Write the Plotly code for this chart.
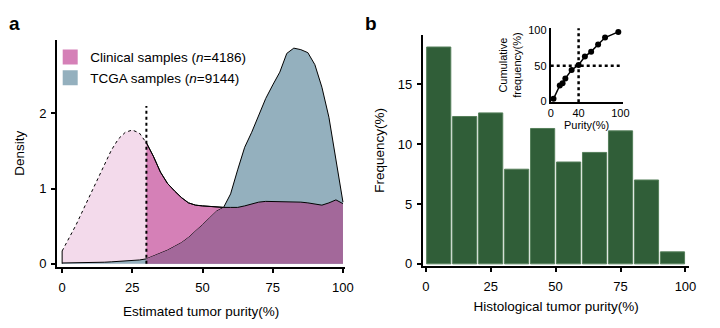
import plotly.graph_objects as go
import numpy as np

# ---------------- data ----------------
PURITY = [0, 2.5, 5, 7.5, 10, 12.5, 15, 17.5, 20, 22.5, 25, 27.5, 30, 32.5, 35, 37.5,
          40, 42.5, 45, 47.5, 50, 52.5, 55, 57.5, 60, 62.5, 65, 67.5, 70, 72.5, 75,
          77.5, 80, 82.5, 85, 87.5, 90, 92.5, 95, 97.5, 100]
CLINICAL = [0.17, 0.34, 0.52, 0.72, 0.92, 1.12, 1.32, 1.51, 1.66, 1.75, 1.78, 1.74, 1.61,
            1.43, 1.22, 1.07, 0.97, 0.88, 0.81, 0.78, 0.77, 0.76, 0.75, 0.75, 0.75, 0.75,
            0.77, 0.80, 0.82, 0.83, 0.83, 0.83, 0.83, 0.83, 0.82, 0.81, 0.79, 0.78, 0.81,
            0.85, 0.80]
TCGA = [0.01, 0.01, 0.01, 0.015, 0.02, 0.02, 0.02, 0.025, 0.03, 0.035, 0.04, 0.05, 0.065,
        0.10, 0.14, 0.18, 0.23, 0.28, 0.35, 0.43, 0.52, 0.61, 0.70, 0.75, 0.93, 1.25,
        1.55, 1.75, 1.98, 2.20, 2.38, 2.55, 2.80, 2.87, 2.85, 2.81, 2.65, 2.35, 1.95,
        1.40, 0.82]
CUTOFF = 30
CUTOFF_LINE_TOP = 2.1

BIN_CENTERS = [5, 15, 25, 35, 45, 55, 65, 75, 85, 95]
FREQ = [18.1, 12.3, 12.6, 7.9, 11.3, 8.5, 9.3, 11.1, 7.0, 1.0]

CUM_X = [4, 13, 17, 21, 30, 40, 49, 58, 68, 78, 97]
CUM_Y = [3, 22, 25, 32, 44, 51, 63, 70, 80, 90, 98]
MEDIAN_PURITY = 40
HALF = 50

LIGHT_PINK = "#f3daeb"
PINK = "#d580b7"
BLUE = "#94b0be"
PURPLE = "#a3689a"
GREEN = "#305e38"
FONT = "Liberation Sans, Arial, sans-serif"

W, H = 720, 328
def px_x(a, b):
    return [a / W, b / W]
def px_y(top, bottom):
    return [1 - bottom / H, 1 - top / H]

x = np.array(PURITY)
clin = np.array(CLINICAL)
tcga = np.array(TCGA)
left = x <= CUTOFF
right = x >= CUTOFF

fig = go.Figure()

fig.add_trace(go.Scatter(x=x[left], y=clin[left], mode="lines", fill="tozeroy",
                         fillcolor=LIGHT_PINK, line=dict(color="black", width=1, dash="dot"),
                         showlegend=False, hoverinfo="skip"))
fig.add_trace(go.Scatter(x=x[right], y=clin[right], mode="lines", fill="tozeroy",
                         fillcolor=PINK, line=dict(color="black", width=1),
                         showlegend=False, hoverinfo="skip"))
fig.add_trace(go.Scatter(x=x, y=tcga, mode="lines", fill="tozeroy",
                         fillcolor=BLUE, line=dict(color="black", width=1),
                         showlegend=False, hoverinfo="skip"))
ov = np.minimum(clin[right], tcga[right])
fig.add_trace(go.Scatter(x=x[right], y=ov, mode="lines", fill="tozeroy",
                         fillcolor=PURPLE, line=dict(color="rgba(0,0,0,0)", width=0),
                         showlegend=False, hoverinfo="skip"))
fig.add_trace(go.Scatter(x=x[right], y=clin[right], mode="lines",
                         line=dict(color="black", width=1),
                         showlegend=False, hoverinfo="skip"))
fig.add_trace(go.Scatter(x=[x[0], x[0]], y=[0, clin[0]], mode="lines",
                         line=dict(color="black", width=1), showlegend=False, hoverinfo="skip"))
fig.add_trace(go.Scatter(x=[CUTOFF, CUTOFF], y=[0, CUTOFF_LINE_TOP], mode="lines",
                         line=dict(color="black", width=2, dash="dot"),
                         showlegend=False, hoverinfo="skip"))

fig.add_trace(go.Scatter(x=[None], y=[None], mode="markers", name="Clinical samples (<i>n</i>=4186)",
                         marker=dict(symbol="square", size=15, color=PINK)))
fig.add_trace(go.Scatter(x=[None], y=[None], mode="markers", name="TCGA samples (<i>n</i>=9144)",
                         marker=dict(symbol="square", size=15, color=BLUE)))

fig.add_trace(go.Bar(x=BIN_CENTERS, y=FREQ, width=9.3,
                     marker=dict(color=GREEN, line=dict(color="#557f5a", width=1)),
                     xaxis="x2", yaxis="y2", showlegend=False, hoverinfo="skip"))

fig.add_trace(go.Scatter(x=[MEDIAN_PURITY, MEDIAN_PURITY], y=[-2, 104], mode="lines",
                         line=dict(color="black", width=2.5, dash="dot"),
                         xaxis="x3", yaxis="y3", showlegend=False, hoverinfo="skip"))
fig.add_trace(go.Scatter(x=[0, 100], y=[HALF, HALF], mode="lines",
                         line=dict(color="black", width=2.5, dash="dot"),
                         xaxis="x3", yaxis="y3", showlegend=False, hoverinfo="skip"))
fig.add_trace(go.Scatter(x=CUM_X, y=CUM_Y, mode="lines+markers",
                         line=dict(color="black", width=1.5),
                         marker=dict(color="black", size=6),
                         xaxis="x3", yaxis="y3", showlegend=False, hoverinfo="skip"))

axis_common = dict(showline=True, linecolor="black", linewidth=2, ticks="outside",
                   ticklen=4, tickwidth=1.5, tickcolor="black", showgrid=False,
                   zeroline=False, tickfont=dict(size=13, color="black"))
title_font = dict(size=13.5, color="black")

fig.update_layout(
    width=W, height=H, margin=dict(l=0, r=0, t=0, b=0),
    paper_bgcolor="white", plot_bgcolor="white",
    font=dict(family=FONT, color="black", size=13),
    showlegend=True,
    legend=dict(x=48 / W, y=1 - 39 / H, xanchor="left", yanchor="top",
                bgcolor="rgba(0,0,0,0)", font=dict(size=13.5), tracegroupgap=0,
                itemwidth=30),
    xaxis=dict(domain=px_x(55, 348), range=[-1.8, 100.8], tickvals=[0, 25, 50, 75, 100],
               ticklabelstandoff=4,
               title=dict(text="Estimated tumor purity(%)", standoff=12, font=title_font), **axis_common),
    yaxis=dict(domain=px_y(37, 271), range=[-0.04, 2.98], tickvals=[0, 1, 2],
               ticklabelstandoff=2,
               title=dict(text="Density", standoff=12, font=title_font), **axis_common),
    xaxis2=dict(domain=px_x(427, 698), range=[-1.1, 101.5], tickvals=[0, 25, 50, 75, 100],
                ticklabelstandoff=4,
                anchor="y2", title=dict(text="Histological tumor purity(%)", standoff=8, font=title_font),
                **axis_common),
    yaxis2=dict(domain=px_y(32, 270), range=[-0.16, 19.1], tickvals=[0, 5, 10, 15],
                ticklabelstandoff=2,
                anchor="x2", title=dict(text="Frequency(%)", standoff=10, font=title_font), **axis_common),
    xaxis3=dict(domain=px_x(557, 630), range=[0, 103], tickvals=[0, 40, 100], anchor="y3",
                showline=True, linecolor="black", linewidth=2, ticks="", showgrid=False,
                zeroline=False, tickfont=dict(size=11, color="black"),
                title=dict(text="Purity(%)", font=dict(size=11, color="black"), standoff=2)),
    yaxis3=dict(domain=px_y(25, 101), range=[-1.4, 103.2], tickvals=[0, 50, 100], anchor="x3",
                showline=True, linecolor="black", linewidth=2, ticks="", showgrid=False,
                zeroline=False, tickfont=dict(size=11, color="black"),
                title=dict(text="Cumulative<br>frequency(%)", font=dict(size=11, color="black"), standoff=4)),
    annotations=[
        dict(text="<b>a</b>", x=12 / W, y=1 - 20 / H, xref="paper", yref="paper",
             showarrow=False, font=dict(size=19), xanchor="center", yanchor="middle"),
        dict(text="<b>b</b>", x=374 / W, y=1 - 20 / H, xref="paper", yref="paper",
             showarrow=False, font=dict(size=19), xanchor="center", yanchor="middle"),
    ],
)

fig.write_html("out.html")
